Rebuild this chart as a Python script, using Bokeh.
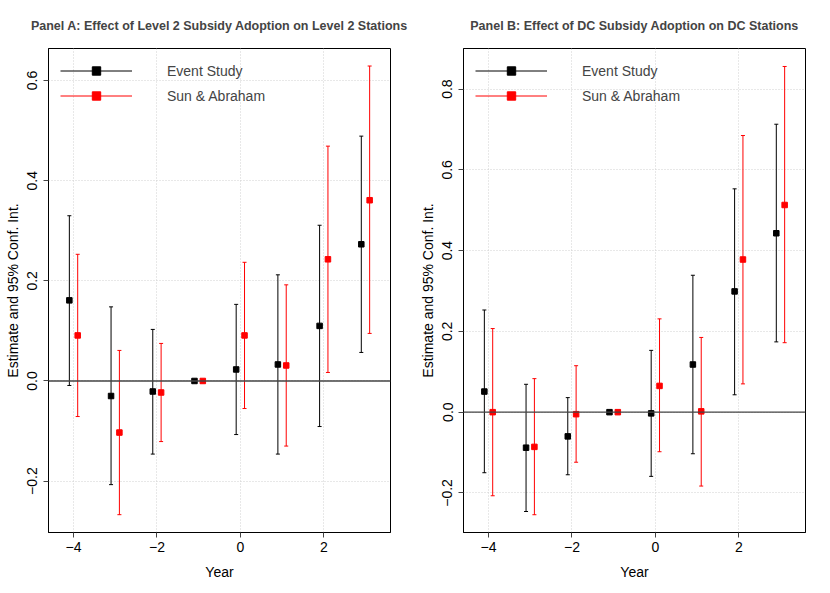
from bokeh.plotting import figure
from bokeh.layouts import row
from bokeh.models import FixedTicker, Span, Legend, LegendItem, CustomJSTickFormatter
from bokeh.embed import file_html
from bokeh.resources import INLINE

# ---------------- data ----------------
years = [-4, -3, -2, -1, 0, 1, 2, 3]

# Panel A: Level 2
a_es_est = [0.161, -0.030, -0.021, 0.0, 0.023, 0.033, 0.110, 0.273]
a_es_lo = [-0.009, -0.207, -0.146, 0.0, -0.107, -0.146, -0.091, 0.057]
a_es_hi = [0.330, 0.148, 0.103, 0.0, 0.153, 0.212, 0.311, 0.489]
a_sa_est = [0.091, -0.103, -0.023, 0.0, 0.091, 0.031, 0.243, 0.361]
a_sa_lo = [-0.071, -0.267, -0.121, 0.0, -0.055, -0.130, 0.017, 0.095]
a_sa_hi = [0.253, 0.061, 0.075, 0.0, 0.237, 0.192, 0.469, 0.629]

# Panel B: DC
b_es_est = [0.051, -0.088, -0.060, 0.0, -0.003, 0.118, 0.299, 0.443]
b_es_lo = [-0.150, -0.246, -0.155, 0.0, -0.159, -0.103, 0.043, 0.174]
b_es_hi = [0.253, 0.069, 0.036, 0.0, 0.153, 0.339, 0.553, 0.713]
b_sa_est = [0.0, -0.086, -0.005, 0.0, 0.065, 0.002, 0.378, 0.513]
b_sa_lo = [-0.207, -0.254, -0.124, 0.0, -0.098, -0.183, 0.070, 0.172]
b_sa_hi = [0.207, 0.083, 0.115, 0.0, 0.231, 0.185, 0.685, 0.856]

series_names = ["Event Study", "Sun & Abraham"]
x_ticks = [-4, -2, 0, 2]
x_tick_labels = ["\u22124", "\u22122", "0", "2"]
a_y_ticks = [-0.2, 0.0, 0.2, 0.4, 0.6]
a_y_tick_labels = ["\u22120.2", "0.0", "0.2", "0.4", "0.6"]
b_y_ticks = [-0.2, 0.0, 0.2, 0.4, 0.6, 0.8]
b_y_tick_labels = ["\u22120.2", "0.0", "0.2", "0.4", "0.6", "0.8"]

FONT = "Liberation Sans"
OFFSET = 0.1


def fmt(tv, tl):
    return CustomJSTickFormatter(
        args=dict(tv=tv, tl=tl),
        code="""
        let best = 0, bd = Infinity;
        for (let i = 0; i < tv.length; i++) {
            const d = Math.abs(tv[i] - tick);
            if (d < bd) { bd = d; best = i; }
        }
        return tl[best];
        """,
    )


def panel(title, es, sa, yr, yticks, ylabels, bl, br):
    p = figure(
        frame_width=342, frame_height=484,
        x_range=(-4.6, 3.6), y_range=yr,
        output_backend="svg", toolbar_location=None,
        min_border_left=bl, min_border_right=br,
        min_border_top=48, min_border_bottom=61,
    )
    p.title.text = title
    p.title.align = "center"
    p.title.text_font = FONT
    p.title.text_font_size = "12.5px"
    p.title.text_font_style = "bold"
    p.title.standoff = 32

    p.outline_line_color = "black"
    p.outline_line_width = 1
    p.background_fill_color = "white"
    p.border_fill_color = "white"

    for ax in (p.xaxis[0], p.yaxis[0]):
        ax.axis_line_color = "black"
        ax.major_tick_in = 0
        ax.major_tick_out = 5
        ax.major_tick_line_color = "#444444"
        ax.minor_tick_line_color = None
        ax.major_label_text_font = FONT
        ax.major_label_text_font_size = "14px"
        ax.major_label_text_color = "black"
        ax.axis_label_text_font = FONT
        ax.axis_label_text_font_size = "14px"
        ax.axis_label_text_font_style = "normal"
        ax.axis_label_text_color = "black"

    p.xaxis.ticker = FixedTicker(ticks=x_ticks)
    p.xaxis.formatter = fmt(x_ticks, x_tick_labels)
    p.xaxis.axis_label = "Year"
    p.xaxis.major_label_standoff = 4
    p.xaxis.axis_label_standoff = 9

    p.yaxis.ticker = FixedTicker(ticks=yticks)
    p.yaxis.formatter = fmt(yticks, ylabels)
    p.yaxis.major_label_orientation = "vertical"
    p.yaxis.axis_label = "Estimate and 95% Conf. Int."
    p.yaxis.major_label_standoff = 6
    p.yaxis.axis_label_standoff = 4

    p.xgrid.ticker = FixedTicker(ticks=x_ticks)
    p.ygrid.ticker = FixedTicker(ticks=yticks)
    for g in (p.xgrid[0], p.ygrid[0]):
        g.grid_line_color = "#d0d0d0"
        g.grid_line_dash = "1 2"
        g.grid_line_width = 1

    p.add_layout(Span(location=0, dimension="width", line_color="#444444", line_width=1.3))

    items = []
    for (est, lo, hi), col, off, name in ((es, "black", -OFFSET, series_names[0]),
                                           (sa, "red", OFFSET, series_names[1])):
        xs = [y + off for y in years]
        seg = p.segment(x0=xs, y0=lo, x1=xs, y1=hi, line_color=col, line_width=1)
        p.scatter(x=xs, y=lo, marker="dash", size=4, line_color=col, line_width=1)
        p.scatter(x=xs, y=hi, marker="dash", size=4, line_color=col, line_width=1)
        sq = p.scatter(x=xs, y=est, marker="square", size=5.5, fill_color=col, line_color=col)
        items.append(LegendItem(label=name, renderers=[seg, sq]))

    leg = Legend(
        items=items, location="top_left",
        glyph_width=72, glyph_height=21, label_standoff=35, spacing=4,
        padding=0, margin=12, border_line_color=None, background_fill_alpha=0,
        label_text_font=FONT, label_text_font_size="14px",
    )
    p.add_layout(leg)
    return p


pa = panel("Panel A: Effect of Level 2 Subsidy Adoption on Level 2 Stations",
           (a_es_est, a_es_lo, a_es_hi), (a_sa_est, a_sa_lo, a_sa_hi),
           (-0.3026, 0.664), a_y_ticks, a_y_tick_labels, 48, 25)
pb = panel("Panel B: Effect of DC Subsidy Adoption on DC Stations",
           (b_es_est, b_es_lo, b_es_hi), (b_sa_est, b_sa_lo, b_sa_hi),
           (-0.298, 0.9005), b_y_ticks, b_y_tick_labels, 48, 25)

layout = row(pa, pb, spacing=0)
open("out.html", "w").write(file_html(layout, INLINE))
